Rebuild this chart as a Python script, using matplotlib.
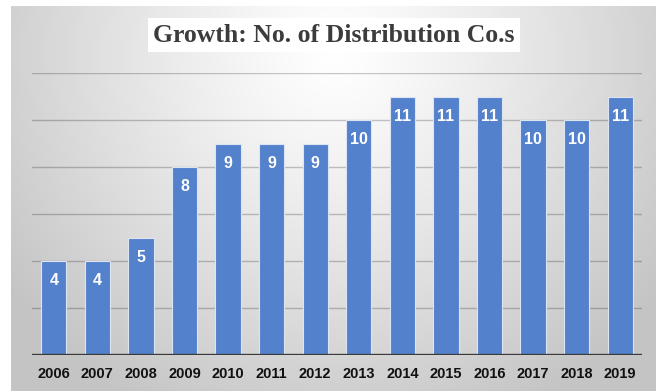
import numpy as np
import matplotlib
matplotlib.use("Agg")
import matplotlib.pyplot as plt

years = ["2006", "2007", "2008", "2009", "2010", "2011", "2012",
         "2013", "2014", "2015", "2016", "2017", "2018", "2019"]
counts = [4, 4, 5, 8, 9, 9, 9, 10, 11, 11, 11, 10, 10, 11]
title = "Growth: No. of Distribution Co.s"

W, H = 664, 391
fig = plt.figure(figsize=(W / 100, H / 100), dpi=100)
fig.patch.set_facecolor("white")

# gradient background panel
bg = fig.add_axes([11 / W, 0, (656 - 11) / W, (H - 6) / H])
ny, nx = 200, 300
yy, xx = np.mgrid[0:ny, 0:nx]
cx, cy = nx * 0.5, ny * 0.12
d = np.sqrt(((xx - cx) / (nx * 0.62)) ** 2 + ((yy - cy) / (ny * 1.05)) ** 2)
d = np.clip(d, 0, 1)
val = 1.0 - 0.23 * d ** 1.2
img = np.dstack([val, val, val])
bg.imshow(img, aspect="auto", extent=[0, 1, 0, 1], origin="upper")
bg.set_axis_off()

ax = fig.add_axes([32 / W, 36 / H, (642 - 32) / W, (355 - 73) / H])
ax.set_facecolor("none")
x = np.arange(len(years))
ax.bar(x, counts, width=0.58, color="#5481CC", edgecolor="#dde5f3",
       linewidth=0.8, zorder=3)
for xi, v in zip(x, counts):
    ax.text(xi, v - 0.85, str(v), ha="center", va="center", color="white",
            fontsize=11.5, fontweight="bold", family="Liberation Sans", zorder=4)

ax.set_xlim(-0.5, len(years) - 0.5)
ax.set_ylim(0, 12)
for g in [2, 4, 6, 8, 10, 12]:
    ax.axhline(g, color="black", alpha=0.22, lw=1.0, zorder=1)
ax.axhline(0, color="#3a3a3a", lw=2.4, zorder=5)
for s in ax.spines.values():
    s.set_visible(False)
ax.set_yticks([])
ax.set_xticks(x)
ax.set_xticklabels(years, fontsize=10.5, fontweight="bold",
                   family="Liberation Sans", color="#111111")
ax.tick_params(axis="x", length=0, pad=9)

fig.text(334 / W, 1 - 35 / H, title, ha="center", va="center",
         fontsize=18.5, fontweight="bold", family="Liberation Serif",
         color="#3c3c3c",
         bbox=dict(boxstyle="square,pad=0.2", fc="white", ec="none"))

fig.savefig("out.png", dpi=100)
